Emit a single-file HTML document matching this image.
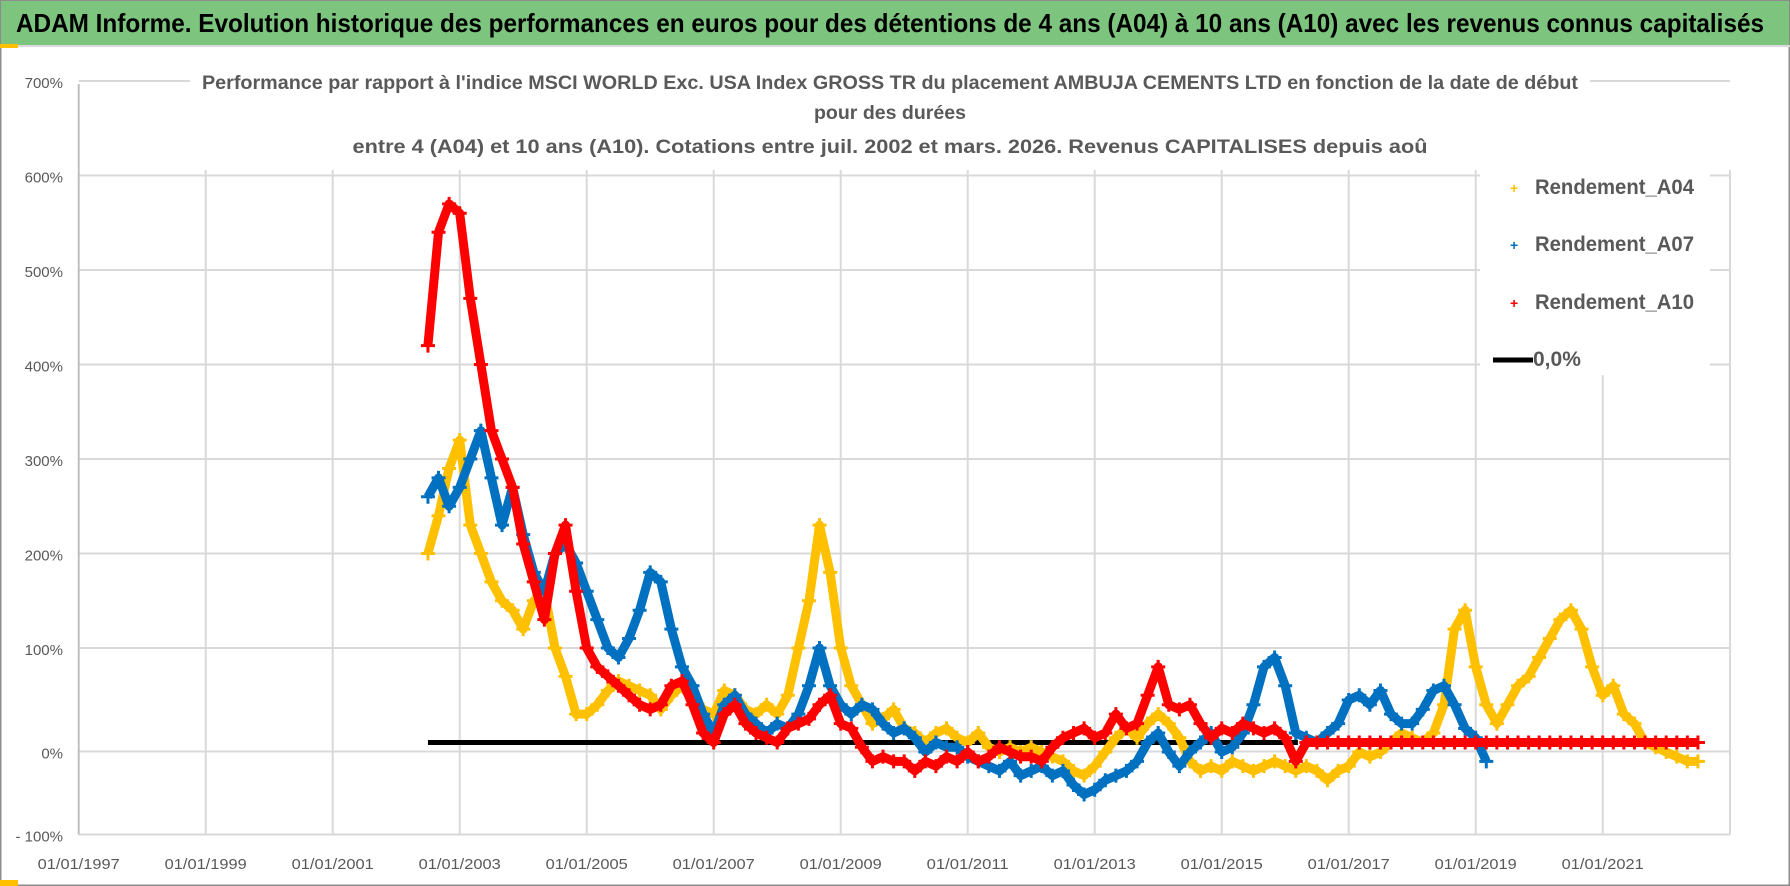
<!DOCTYPE html>
<html><head><meta charset="utf-8"><style>
body{margin:0;width:1790px;height:886px;overflow:hidden;background:#fff;}
svg{display:block}
</style></head><body>
<svg id="chart" width="1790" height="886" xmlns="http://www.w3.org/2000/svg">
<rect x="0" y="0" width="1790" height="886" fill="#fff" stroke="#8c8c8c" stroke-width="3"/>
<rect x="1" y="1" width="1788" height="44" fill="#7dc47e"/>
<line x1="0" y1="46" x2="1790" y2="46" stroke="#d9d9d9" stroke-width="2"/>
<rect x="0" y="44" width="18" height="4" fill="#ffc000"/>
<rect x="0" y="880" width="18" height="6" fill="#ffc000"/>
<text x="890" y="32" text-anchor="middle" font-family="Liberation Sans, sans-serif" font-weight="bold" font-size="26" fill="#000" textLength="1748" lengthAdjust="spacingAndGlyphs">ADAM Informe. Evolution historique des performances en euros pour des détentions de 4 ans (A04) à 10 ans (A10) avec les revenus connus capitalisés</text>
<g id="grid"></g>
<g id="ylabels"></g>
<g id="xlabels"></g>
<g font-family="Liberation Sans, sans-serif" font-weight="bold" font-size="19" fill="#595959">
<rect x="190" y="68" width="1400" height="30" fill="#fff"/>
<text x="890" y="89" text-anchor="middle" textLength="1376" lengthAdjust="spacingAndGlyphs">Performance par rapport à l'indice MSCI WORLD Exc. USA Index GROSS TR  du placement AMBUJA CEMENTS LTD en fonction de la date de début</text>
<text x="890" y="119" text-anchor="middle" textLength="152" lengthAdjust="spacingAndGlyphs">pour des durées</text>
<text x="890" y="153" text-anchor="middle" textLength="1075" lengthAdjust="spacingAndGlyphs">entre 4 (A04) et 10 ans (A10). Cotations entre juil. 2002 et mars. 2026. Revenus CAPITALISES depuis aoû</text>
</g>
<g id="series"></g>
<g font-family="Liberation Sans, sans-serif" font-weight="bold" font-size="21" fill="#595959">
<rect x="1480" y="165" width="230" height="210" fill="#fff"/>
<g><text x="1510" y="193" fill="#ffc000" font-size="14">+</text><text x="1535" y="194" textLength="159" lengthAdjust="spacingAndGlyphs">Rendement_A04</text></g>
<g><text x="1510" y="250" fill="#0070c0" font-size="14">+</text><text x="1535" y="251" textLength="159" lengthAdjust="spacingAndGlyphs">Rendement_A07</text></g>
<g><text x="1510" y="308" fill="#ff0000" font-size="14">+</text><text x="1535" y="309" textLength="159" lengthAdjust="spacingAndGlyphs">Rendement_A10</text></g>
<g><line x1="1493" y1="360" x2="1533" y2="360" stroke="#000" stroke-width="5"/><text x="1533" y="366">0,0%</text></g>
</g>
</svg>
<script>
const yTickValues=[700,600,500,400,300,200,100,0,-100];
const yTickLabels=["700%","600%","500%","400%","300%","200%","100%","0%","- 100%"];
const xTickYears=[1997,1999,2001,2003,2005,2007,2009,2011,2013,2015,2017,2019,2021];
const xTickLabels=["01/01/1997","01/01/1999","01/01/2001","01/01/2003","01/01/2005","01/01/2007","01/01/2009","01/01/2011","01/01/2013","01/01/2015","01/01/2017","01/01/2019","01/01/2021"];
const seriesStart=2002.5;
const seriesStep=1/6;
const a04=[200,240,290,320,230,200,170,150,140,120,150,160,100,70,30,30,40,55,65,60,55,50,35,50,60,45,35,30,55,50,35,30,40,30,50,100,150,230,180,100,60,40,20,25,35,15,10,0,10,15,5,0,10,-5,-10,-5,-10,-5,-10,-15,-20,-30,-35,-25,-10,5,15,5,20,30,20,5,-20,-30,-25,-30,-20,-25,-30,-25,-20,-25,-30,-25,-30,-40,-30,-25,-10,-15,-10,0,10,5,0,10,40,120,140,80,40,20,40,60,70,90,110,130,140,120,80,50,60,30,20,0,-5,-10,-15,-20,-20];
const a07=[260,280,250,270,300,330,280,230,270,220,180,160,200,210,190,160,130,100,90,110,140,180,170,120,80,60,30,10,40,50,30,20,10,20,15,30,60,100,60,40,30,40,35,20,10,15,5,-10,0,-5,-5,-15,-20,-25,-30,-20,-35,-30,-25,-35,-30,-45,-55,-50,-40,-35,-30,-20,0,10,-10,-25,-10,0,10,-10,-5,10,40,80,90,60,10,5,0,10,20,45,50,40,55,30,20,20,35,55,60,40,15,5,-20];
const a10=[420,540,570,560,470,400,330,300,270,210,170,130,200,230,160,100,80,70,60,50,40,35,40,60,65,40,10,0,30,40,20,10,5,0,15,20,25,40,50,20,15,-5,-20,-15,-20,-20,-30,-20,-25,-15,-20,-10,-20,-15,-5,-10,-15,-15,-20,-5,5,10,15,5,10,30,15,20,50,80,40,35,40,20,5,15,10,20,15,10,15,5,-20,0,0,0,0,0,0,0,0,0,0,0,0,0,0,0,0,0,0,0,0,0,0,0,0,0,0,0,0,0,0,0,0,0,0,0,0,0,0];
const zeroLineStart=2002.5, zeroLineEnd=2016.2, zeroValue=0;

const NS="http://www.w3.org/2000/svg";
const X0=78.7, PX_PER_YEAR=63.5, Y0=742.5, PX_PER_PCT=0.945;
function xScale(year){return X0+(year-1997)*PX_PER_YEAR;}
function yScale(v){return Y0-v*PX_PER_PCT;}
function mk(tag,attrs,parent){const e=document.createElementNS(NS,tag);for(const k in attrs)e.setAttribute(k,attrs[k]);parent.appendChild(e);return e;}

const grid=document.getElementById('grid');
const yl=document.getElementById('ylabels');
const xl=document.getElementById('xlabels');
yTickValues.forEach((v,i)=>{
  let y = v===0 ? 751.5 : (v===-100 ? 834.5 : yScale(v));
  const ln=mk('line',{x1:X0,x2:1730,y1:y,y2:y,stroke:'#d9d9d9','stroke-width':2},grid);
  
  
  const t=mk('text',{x:63,y:y+7,'text-anchor':'end','font-family':'Liberation Sans, sans-serif','font-size':'15',fill:'#595959'},yl);
  t.textContent=yTickLabels[i];
  
  
});
xTickYears.forEach((yr,i)=>{
  const x=xScale(yr);
  const ln=mk('line',{x1:x,x2:x,y1:i===0?84:170,y2:834.5,stroke:i===0?'#bfbfbf':'#d9d9d9','stroke-width':2},grid);
  
  
  const t=mk('text',{x:x,y:869,'text-anchor':'middle','font-family':'Liberation Sans, sans-serif','font-size':'15',fill:'#595959',textLength:'82',lengthAdjust:'spacingAndGlyphs'},xl);
  t.textContent=xTickLabels[i];
  
  
});
const rl=mk('line',{x1:1730,x2:1730,y1:170,y2:834.5,stroke:'#d9d9d9','stroke-width':2},grid);



const layer=document.getElementById('series');
const zl=mk('line',{x1:xScale(zeroLineStart),x2:xScale(zeroLineEnd),y1:yScale(zeroValue),y2:yScale(zeroValue),stroke:'#000','stroke-width':5},layer);



function drawSeries(vals,color,name){
  const g=mk('g',{},layer);
  
  
  const pts=vals.map((v,i)=>xScale(seriesStart+i*seriesStep).toFixed(1)+','+yScale(v).toFixed(1)).join(' ');
  const pl=mk('polyline',{points:pts,fill:'none',stroke:color,'stroke-width':9,'stroke-linejoin':'round'},g);
  
  
  vals.forEach((v,i)=>{
    const x=xScale(seriesStart+i*seriesStep), y=yScale(v);
    const p=mk('path',{d:`M${x-7},${y}h14M${x},${y-7}v14`,stroke:color,'stroke-width':3},g);
    
    
  });
}
drawSeries(a04,'#ffc000','series-a04');
drawSeries(a07,'#0070c0','series-a07');
drawSeries(a10,'#ff0000','series-a10');
</script>
</body></html>
